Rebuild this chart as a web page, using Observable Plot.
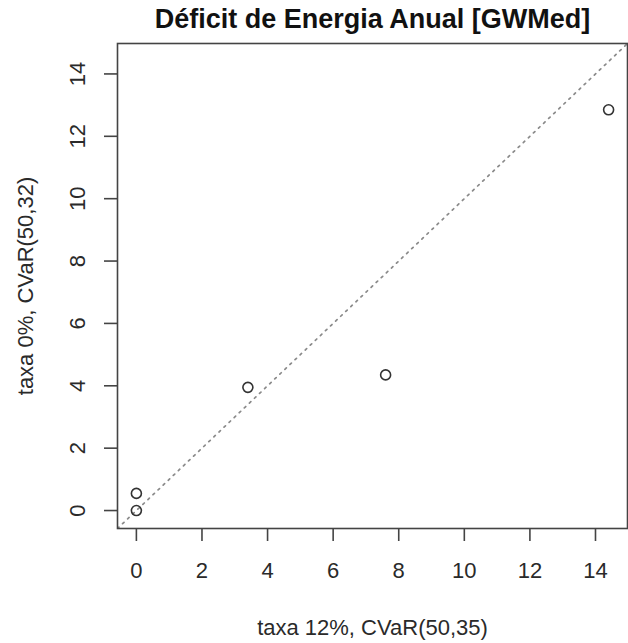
<!DOCTYPE html>
<html>
<head>
<meta charset="utf-8">
<script src="https://cdn.jsdelivr.net/npm/d3@7"></script>
<script src="https://cdn.jsdelivr.net/npm/@observablehq/plot@0.6"></script>
<style>
  html, body { margin: 0; padding: 0; background: #fff; }
</style>
</head>
<body>
<div id="chart"></div>
<script>
// Data
const title = "Déficit de Energia Anual [GWMed]";
const xLabel = "taxa 12%, CVaR(50,35)";
const yLabel = "taxa 0%, CVaR(50,32)";
const xValues = [0, 0, 3.4, 7.6, 14.4];     // taxa 12%
const yValues = [0, 0.55, 3.95, 4.35, 12.85]; // taxa 0%
const xTicks = [0, 2, 4, 6, 8, 10, 12, 14];
const yTicks = [0, 2, 4, 6, 8, 10, 12, 14];
const limits = [-0.576, 14.976];

const points = xValues.map((x, i) => ({x, y: yValues[i]}));
const diag = limits.map(v => ({x: v, y: v}));

const chart = Plot.plot({
  width: 628,
  height: 643,
  marginLeft: 117,
  marginRight: 1,
  marginTop: 43,
  marginBottom: 115,
  style: {fontFamily: "Liberation Sans, Arial, sans-serif", fontSize: "22px", background: "#fff", color: "#2a2a2a"},
  x: {domain: limits},
  y: {domain: limits},
  marks: [
    Plot.line(diag, {x: "x", y: "y", stroke: "#8a8a8a", strokeWidth: 1.7, strokeDasharray: "2,5", clip: true}),
    Plot.dot(points, {x: "x", y: "y", r: 5, stroke: "#333", strokeWidth: 1.6, fill: "none"}),
    Plot.frame({stroke: "#444", strokeWidth: 1.6}),
    Plot.axisX({ticks: xTicks, tickSize: 13, tickPadding: 21, stroke: "#444", strokeWidth: 1.6, fontSize: 22,
      label: xLabel, labelAnchor: "center", labelArrow: "none", labelOffset: 106, tickFormat: d => String(d)}),
    Plot.axisY({ticks: yTicks, tickSize: 13, tickPadding: 20, tickRotate: -90, stroke: "#444", strokeWidth: 1.6, fontSize: 22,
      label: yLabel, labelAnchor: "center", labelArrow: "none", labelOffset: 100, tickFormat: d => String(d)}),
    Plot.text([title], {frameAnchor: "top", lineAnchor: "bottom", dy: -16, fontSize: 27, fontWeight: "bold", fill: "#111"})
  ]
});
document.getElementById("chart").appendChild(chart);
</script>
</body>
</html>
